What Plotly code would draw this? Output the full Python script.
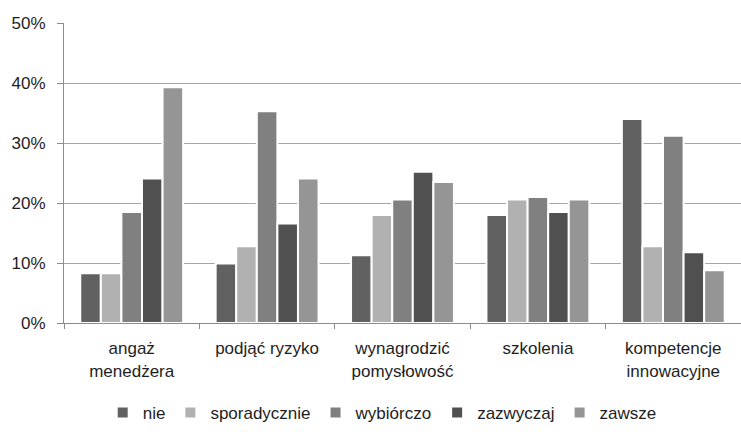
import plotly.graph_objects as go

# Survey categories (x axis) and answer-frequency series, in percent
categories = ["angaż<br>menedżera", "podjąć ryzyko", "wynagrodzić<br>pomysłowość",
              "szkolenia", "kompetencje<br>innowacyjne"]
series_names = ["nie", "sporadycznie", "wybiórczo", "zazwyczaj", "zawsze"]
nie = [8.3, 9.9, 11.3, 18.0, 34.0]
sporadycznie = [8.3, 12.8, 18.0, 20.6, 12.8]
wybiorczo = [18.5, 35.3, 20.6, 21.0, 31.2]
zazwyczaj = [24.1, 16.6, 25.2, 18.5, 11.8]
zawsze = [39.3, 24.1, 23.5, 20.6, 8.8]
series_values = [nie, sporadycznie, wybiorczo, zazwyczaj, zawsze]
series_colors = ["#616161", "#b1b1b1", "#808080", "#505050", "#959595"]
y_ticks = [0, 10, 20, 30, 40, 50]
y_tick_labels = ["0%", "10%", "20%", "30%", "40%", "50%"]

FONT = "Liberation Sans, Arial, sans-serif"
TEXT = "#1e1e1e"

fig = go.Figure()
for name, vals, col in zip(series_names, series_values, series_colors):
    fig.add_trace(go.Bar(
        name=name, x=categories, y=vals,
        marker=dict(color=col, line=dict(color="white", width=2)),
    ))

fig.update_layout(
    width=741, height=432,
    margin=dict(l=64, r=0, t=23, b=109),
    paper_bgcolor="white", plot_bgcolor="white",
    barmode="group", bargap=0.24, bargroupgap=0,
    font=dict(family=FONT, size=17, color=TEXT),
    showlegend=True,
    legend=dict(
        orientation="h", xanchor="center", yanchor="middle",
        x=0.47, y=-0.30, itemwidth=30,
        font=dict(family=FONT, size=17, color=TEXT),
        itemclick=False,
    ),
    xaxis=dict(
        showline=True, linecolor="#8c8c8c", linewidth=1,
        ticks="outside", tickson="boundaries", ticklen=5, tickcolor="#8c8c8c",
        showgrid=False, tickfont=dict(size=17, color=TEXT),
        range=[-0.5, 4.5], ticklabelstandoff=10,
    ),
    yaxis=dict(
        range=[0, 50], tickvals=y_ticks, ticktext=y_tick_labels,
        showline=True, linecolor="#8c8c8c", linewidth=1,
        ticks="outside", ticklen=6, tickcolor="#8c8c8c",
        showgrid=True, gridcolor="#a6a6a6", gridwidth=1,
        zeroline=False, tickfont=dict(size=17, color=TEXT),
        ticklabelstandoff=8,
    ),
)

fig.write_html("out.html")
